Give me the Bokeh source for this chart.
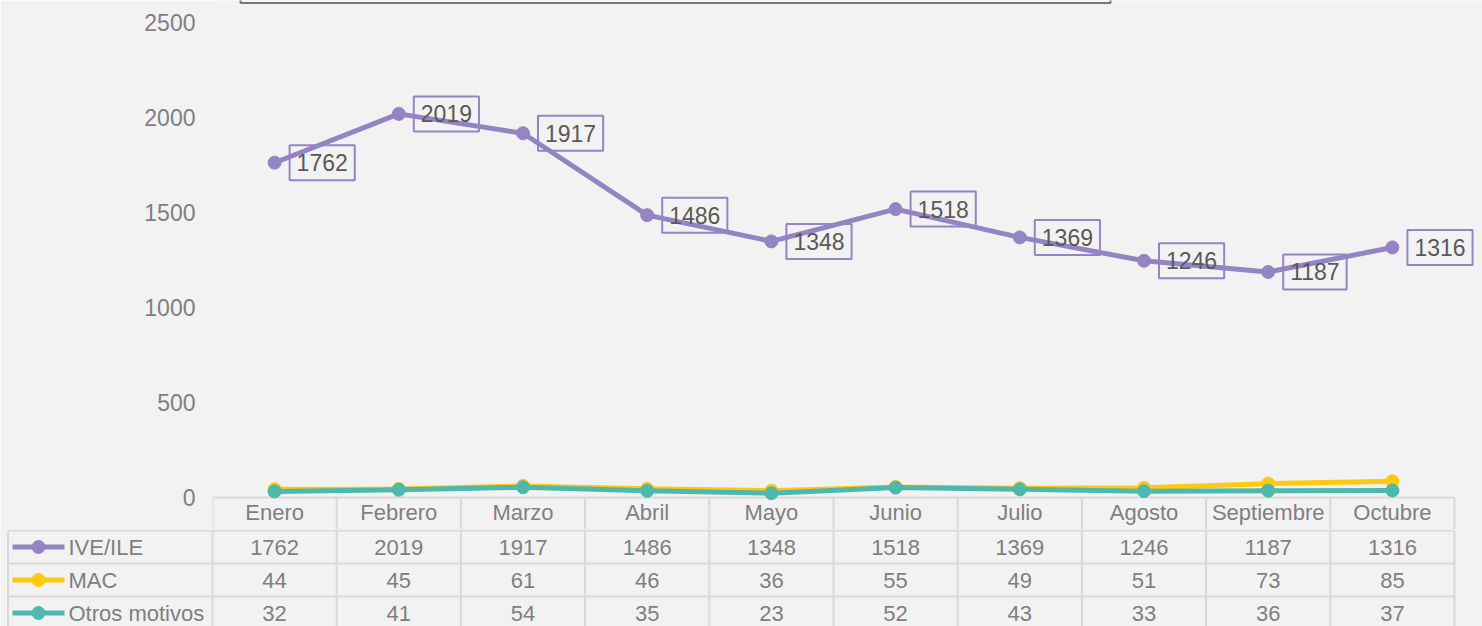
import numpy as np
from bokeh.plotting import figure
from bokeh.models import Range1d, FixedTicker
from bokeh.layouts import column
from bokeh.core.properties import value
from bokeh.embed import file_html
from bokeh.resources import INLINE

# ---------------- data ----------------
months = ["Enero", "Febrero", "Marzo", "Abril", "Mayo", "Junio",
          "Julio", "Agosto", "Septiembre", "Octubre"]
ive_ile = [1762, 2019, 1917, 1486, 1348, 1518, 1369, 1246, 1187, 1316]
mac = [44, 45, 61, 46, 36, 55, 49, 51, 73, 85]
otros = [32, 41, 54, 35, 23, 52, 43, 33, 36, 37]
series_names = ["IVE/ILE", "MAC", "Otros motivos"]
y_ticks = [0, 500, 1000, 1500, 2000, 2500]

# ---------------- style ----------------
PURPLE = "#9584c4"
YELLOW = "#ffc90e"
TEAL = "#4db8ad"
BG = "#f2f2f2"
GRID = "#d9d9d9"
TXT = "#7f7f7f"
LBL = "#595959"
BOXC = "#767676"
FONT = "Liberation Sans"

W = 1482          # figure width
COL = 124.2       # px per category column
LEFT = 212        # px left of plot frame
A_H = 529         # chart figure height
ZERO_PX = 497     # y pixel of value 0 inside chart frame
PPU = 0.19        # px per unit on y
ROW = 33.0        # table row height px
B_H = 97          # table figure height

xs = list(range(len(months)))
n = len(months)
x_end = -0.5 + (W - LEFT) / COL
y_top_a = ZERO_PX / PPU

# ---------------- chart figure ----------------
p = figure(width=W, height=A_H,
           x_range=Range1d(-0.5, x_end),
           y_range=Range1d(-(A_H - ZERO_PX) / PPU, y_top_a),
           output_backend="svg", toolbar_location=None,
           x_axis_location=None,
           min_border_left=LEFT, min_border_right=0,
           min_border_top=0, min_border_bottom=0,
           background_fill_color=BG, border_fill_color=BG,
           outline_line_color=None)
p.frame_align = False
p.xgrid.grid_line_color = None
p.ygrid.grid_line_color = None
ax = p.yaxis[0]
ax.ticker = FixedTicker(ticks=y_ticks)
ax.axis_line_color = None
ax.major_tick_line_color = None
ax.minor_tick_line_color = None
ax.major_label_text_font = FONT
ax.major_label_text_font_size = "23px"
ax.major_label_text_color = TXT
ax.major_label_standoff = 11

# title box (mostly cut off at the top in the reference)
p.quad(left=[-0.5 + (240 - LEFT) / COL], right=[-0.5 + (1110 - LEFT) / COL],
       bottom=[y_top_a - 2.5 / PPU], top=[y_top_a + 40 / PPU],
       fill_color=None, line_color=BOXC, line_width=2)

y_bot = -(A_H - ZERO_PX) / PPU
bounds = [i - 0.5 for i in range(n + 1)]
# header row grid
p.segment(x0=bounds, y0=[0] * len(bounds), x1=bounds, y1=[y_bot] * len(bounds),
          line_color=GRID, line_width=2)
p.segment(x0=[-0.5], y0=[0], x1=[n - 0.5], y1=[0], line_color=GRID, line_width=2)
# header month labels
p.text(x=xs, y=[-15 / PPU] * n, text=months, text_align="center",
       text_baseline="middle", text_font=value(FONT), text_font_size="22px",
       text_color=TXT)

# series
for vals, col in [(ive_ile, PURPLE), (mac, YELLOW), (otros, TEAL)]:
    p.line(xs, vals, line_color=col, line_width=5, line_join="round")
    p.scatter(xs, vals, size=13, fill_color=col, line_color=col)

# data labels for IVE/ILE
p.text(x=xs, y=ive_ile, text=[str(v) for v in ive_ile], x_offset=15,
       text_align="left", text_baseline="middle",
       text_font=value(FONT), text_font_size="23px", text_color=LBL,
       border_line_color=PURPLE, border_line_width=2,
       padding=dict(left=7, right=7, top=9, bottom=9))

# ---------------- table figure ----------------
leg_l = -0.5 - LEFT / COL
y_top = 1.0 / ROW
y_b = y_top - B_H / ROW
q = figure(width=W, height=B_H,
           x_range=Range1d(leg_l, x_end),
           y_range=Range1d(y_b, y_top),
           output_backend="svg", toolbar_location=None,
           x_axis_location=None, y_axis_location=None,
           min_border_left=0, min_border_right=0,
           min_border_top=0, min_border_bottom=0,
           background_fill_color=BG, border_fill_color=BG,
           outline_line_color=None)
q.frame_align = False
q.xgrid.grid_line_color = None
q.ygrid.grid_line_color = None

vx = [leg_l + 7.5 / COL] + bounds
q.segment(x0=vx, y0=[0] * len(vx), x1=vx, y1=[y_b] * len(vx),
          line_color=GRID, line_width=2)
hy = [0, -1, -2]
q.segment(x0=[leg_l + 7.5 / COL] * 3, y0=hy, x1=[n - 0.5] * 3, y1=hy,
          line_color=GRID, line_width=2)

for i, (name, vals, col) in enumerate(zip(series_names, [ive_ile, mac, otros],
                                          [PURPLE, YELLOW, TEAL])):
    yc = -0.5 - i
    q.segment(x0=[leg_l + 12 / COL], y0=[yc], x1=[leg_l + 64 / COL], y1=[yc],
              line_color=col, line_width=5)
    q.scatter([leg_l + 38 / COL], [yc], size=13, fill_color=col, line_color=col)
    q.text(x=[leg_l + 68 / COL], y=[yc], text=[name], text_align="left",
           text_baseline="middle", text_font=value(FONT),
           text_font_size="22px", text_color=TXT)
    q.text(x=xs, y=[yc] * n, text=[str(v) for v in vals], text_align="center",
           text_baseline="middle", text_font=value(FONT),
           text_font_size="22px", text_color=TXT)

layout = column(p, q, spacing=0)
open("out.html", "w").write(file_html(layout, INLINE))
